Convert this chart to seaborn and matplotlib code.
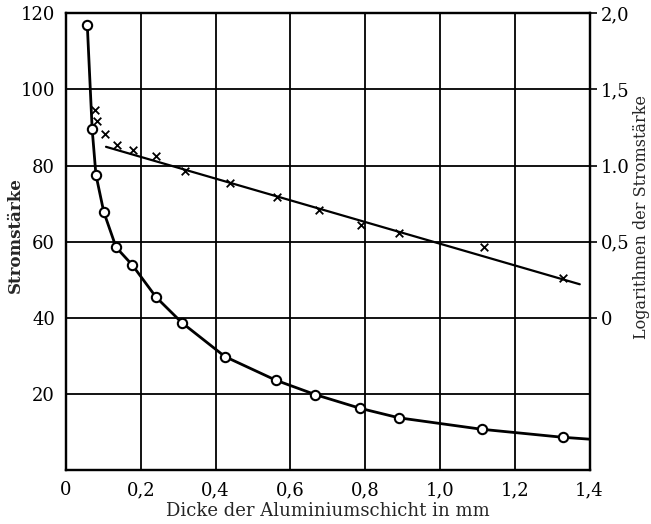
import matplotlib
matplotlib.use("Agg")
import matplotlib.pyplot as plt
import seaborn as sns
import pandas as pd

# Circles: current (Stromstärke) vs thickness
circ_x = [0.057, 0.070, 0.080, 0.101, 0.134, 0.177, 0.241, 0.310, 0.425, 0.561, 0.667, 0.787, 0.891, 1.112, 1.328]
circ_y = [116.8, 89.5, 77.6, 67.8, 58.5, 53.9, 45.4, 38.7, 29.8, 23.6, 19.8, 16.2, 13.7, 10.7, 8.6]
# end of the drawn curve at the right border
curve_end_x = [1.4]
curve_end_y = [8.1]

# Crosses: logarithm of current (right axis)
cross_x = [0.077, 0.084, 0.104, 0.136, 0.179, 0.241, 0.317, 0.439, 0.564, 0.676, 0.789, 0.891, 1.117, 1.328]
cross_log = [1.367, 1.29, 1.21, 1.135, 1.105, 1.064, 0.963, 0.886, 0.795, 0.71, 0.609, 0.558, 0.466, 0.264]
# fitted straight line
line_x = [0.107, 1.374]
line_log = [1.123, 0.22]

x_ticks = [0, 0.2, 0.4, 0.6, 0.8, 1.0, 1.2, 1.4]
x_labels = ["0", "0,2", "0,4", "0,6", "0,8", "1,0", "1,2", "1,4"]
y_ticks = [20, 40, 60, 80, 100, 120]
y_labels = ["20", "40", "60", "80", "100", "120"]
r_ticks = [0, 0.5, 1.0, 1.5, 2.0]
r_labels = ["0", "0,5", "1.0", "1,5", "2,0"]

sns.set_style("white")
plt.rcParams["font.family"] = ["DejaVu Serif"]

fig = plt.figure(figsize=(6.51, 5.24), dpi=100)
ax = fig.add_axes([66/651, 1 - 470/524, (589.5 - 66)/651, (470 - 13.3)/524])

curve = pd.DataFrame({"x": circ_x + curve_end_x, "y": circ_y + curve_end_y})
sns.lineplot(data=curve, x="x", y="y", ax=ax, color="black", lw=2.0, sort=False, zorder=3)
circ = pd.DataFrame({"x": circ_x, "y": circ_y})
sns.scatterplot(data=circ, x="x", y="y", ax=ax, marker="o", s=45, facecolor="white",
                edgecolor="black", linewidth=1.5, zorder=4)

ax.set_xlim(0, 1.4)
ax.set_ylim(0, 120)
ax.set_xticks(x_ticks)
ax.set_xticklabels(x_labels)
ax.set_yticks(y_ticks)
ax.set_yticklabels(y_labels)
ax.grid(True, color="black", lw=1.3)
for s in ax.spines.values():
    s.set_color("black")
    s.set_linewidth(1.6)
ax.tick_params(axis="both", labelsize=13, direction="out", length=0, pad=8, colors="black")
ax.set_xlabel("Dicke der Aluminiumschicht in mm", fontsize=13, labelpad=2)
ax.set_ylabel("")

ax2 = ax.twinx()
ax2.set_ylim(-1.0, 2.0)
lin = pd.DataFrame({"x": line_x, "y": line_log})
sns.lineplot(data=lin, x="x", y="y", ax=ax2, color="black", lw=1.6, zorder=3)
crs = pd.DataFrame({"x": cross_x, "y": cross_log})
sns.scatterplot(data=crs, x="x", y="y", ax=ax2, marker="x", s=30, color="black",
                linewidth=1.3, zorder=4)
ax2.set_xlim(0, 1.4)
ax2.set_yticks(r_ticks)
ax2.set_yticklabels(r_labels)
ax2.tick_params(axis="y", labelsize=13, direction="out", length=5, width=1.2, pad=3, colors="black")
ax2.set_ylabel("")
ax2.grid(False)
for s in ax2.spines.values():
    s.set_color("black")
    s.set_linewidth(1.6)

fig.text(15/651, 1 - 235/524, "Stromstärke", rotation=90, ha="center", va="center",
         fontsize=12, fontweight="bold")
fig.text(642/651, 1 - 217/524, "Logarithmen der Stromstärke", rotation=90, ha="center",
         va="center", fontsize=11.5)

fig.savefig("out.png", dpi=100, facecolor="white")
